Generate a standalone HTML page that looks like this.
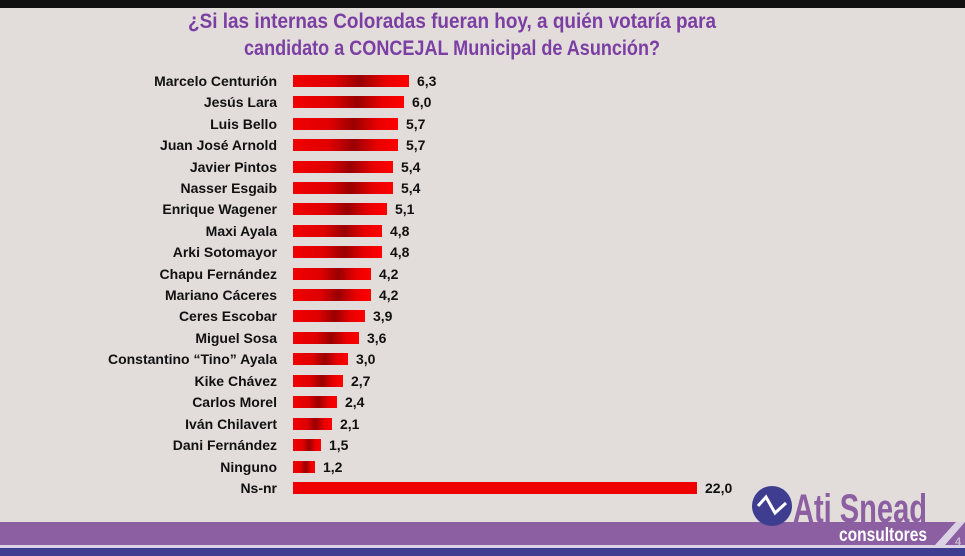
<!DOCTYPE html>
<html><head><meta charset="utf-8"><style>
html,body{margin:0;padding:0;background:#e2dcda}
svg{display:block}
text{font-family:"Liberation Sans Narrow","Liberation Sans",sans-serif;font-weight:bold}
</style></head><body>
<svg width="965" height="556" viewBox="0 0 965 556" xmlns="http://www.w3.org/2000/svg">
<defs>
<linearGradient id="g" x1="0" x2="1" y1="0" y2="0">
<stop offset="0" stop-color="#f00000"/><stop offset="0.35" stop-color="#e00000"/>
<stop offset="0.58" stop-color="#9a0000"/><stop offset="0.8" stop-color="#e80000"/>
<stop offset="1" stop-color="#ff0000"/></linearGradient>
</defs>
<rect width="965" height="556" fill="#e2dcda"/>
<rect width="965" height="8" fill="#111"/>
<text x="452" y="28" font-size="21" fill="#7b3fa3" text-anchor="middle" textLength="528" lengthAdjust="spacingAndGlyphs">¿Si las internas Coloradas fueran hoy, a quién votaría para</text>
<text x="452" y="55" font-size="21" fill="#7b3fa3" text-anchor="middle" textLength="416" lengthAdjust="spacingAndGlyphs">candidato a CONCEJAL Municipal de Asunción?</text>
<g font-size="14" fill="#111">
<rect x="293" y="75" width="116" height="12" fill="url(#g)"/><text x="277" y="86" text-anchor="end">Marcelo Centurión</text><text x="417" y="86">6,3</text>
<rect x="293" y="96" width="111" height="12" fill="url(#g)"/><text x="277" y="107" text-anchor="end">Jesús Lara</text><text x="412" y="107">6,0</text>
<rect x="293" y="118" width="105" height="12" fill="url(#g)"/><text x="277" y="129" text-anchor="end">Luis Bello</text><text x="406" y="129">5,7</text>
<rect x="293" y="139" width="105" height="12" fill="url(#g)"/><text x="277" y="150" text-anchor="end">Juan José Arnold</text><text x="406" y="150">5,7</text>
<rect x="293" y="161" width="100" height="12" fill="url(#g)"/><text x="277" y="172" text-anchor="end">Javier Pintos</text><text x="401" y="172">5,4</text>
<rect x="293" y="182" width="100" height="12" fill="url(#g)"/><text x="277" y="193" text-anchor="end">Nasser Esgaib</text><text x="401" y="193">5,4</text>
<rect x="293" y="203" width="94" height="12" fill="url(#g)"/><text x="277" y="214" text-anchor="end">Enrique Wagener</text><text x="395" y="214">5,1</text>
<rect x="293" y="225" width="89" height="12" fill="url(#g)"/><text x="277" y="236" text-anchor="end">Maxi Ayala</text><text x="390" y="236">4,8</text>
<rect x="293" y="246" width="89" height="12" fill="url(#g)"/><text x="277" y="257" text-anchor="end">Arki Sotomayor</text><text x="390" y="257">4,8</text>
<rect x="293" y="268" width="78" height="12" fill="url(#g)"/><text x="277" y="279" text-anchor="end">Chapu Fernández</text><text x="379" y="279">4,2</text>
<rect x="293" y="289" width="78" height="12" fill="url(#g)"/><text x="277" y="300" text-anchor="end">Mariano Cáceres</text><text x="379" y="300">4,2</text>
<rect x="293" y="310" width="72" height="12" fill="url(#g)"/><text x="277" y="321" text-anchor="end">Ceres Escobar</text><text x="373" y="321">3,9</text>
<rect x="293" y="332" width="66" height="12" fill="url(#g)"/><text x="277" y="343" text-anchor="end">Miguel Sosa</text><text x="367" y="343">3,6</text>
<rect x="293" y="353" width="55" height="12" fill="url(#g)"/><text x="277" y="364" text-anchor="end">Constantino “Tino” Ayala</text><text x="356" y="364">3,0</text>
<rect x="293" y="375" width="50" height="12" fill="url(#g)"/><text x="277" y="386" text-anchor="end">Kike Chávez</text><text x="351" y="386">2,7</text>
<rect x="293" y="396" width="44" height="12" fill="url(#g)"/><text x="277" y="407" text-anchor="end">Carlos Morel</text><text x="345" y="407">2,4</text>
<rect x="293" y="418" width="39" height="12" fill="url(#g)"/><text x="277" y="429" text-anchor="end">Iván Chilavert</text><text x="340" y="429">2,1</text>
<rect x="293" y="439" width="28" height="12" fill="url(#g)"/><text x="277" y="450" text-anchor="end">Dani Fernández</text><text x="329" y="450">1,5</text>
<rect x="293" y="461" width="22" height="12" fill="url(#g)"/><text x="277" y="472" text-anchor="end">Ninguno</text><text x="323" y="472">1,2</text>
<rect x="293" y="482" width="404" height="12" fill="#ee0000"/><text x="277" y="493" text-anchor="end">Ns-nr</text><text x="705" y="493">22,0</text>
</g>
<rect x="0" y="522" width="965" height="23" fill="#8b5fa1"/>
<rect x="0" y="545" width="965" height="3" fill="#dcd2e6"/>
<rect x="0" y="548" width="965" height="8" fill="#3f3d8f"/>
<polygon points="935,545 965,512 965,522 945,545" fill="#dcd2e6"/>
<polygon points="945,522 965,522 965,512 955,512" fill="#e2dcda"/>
<text x="955" y="545" font-size="11" fill="#c9bdd6" font-weight="normal">4</text>
<circle cx="772" cy="506" r="20" fill="#3f3d8f"/>
<polyline points="758,506 766,497 775,513 786,503" fill="none" stroke="#fff" stroke-width="3"/>
<text x="793" y="522" font-size="40" fill="#8b5fa1" textLength="134" lengthAdjust="spacingAndGlyphs">Ati Snead</text>
<text x="839" y="541" font-size="19" fill="#fff" textLength="88" lengthAdjust="spacingAndGlyphs">consultores</text>
</svg>
</body></html>
